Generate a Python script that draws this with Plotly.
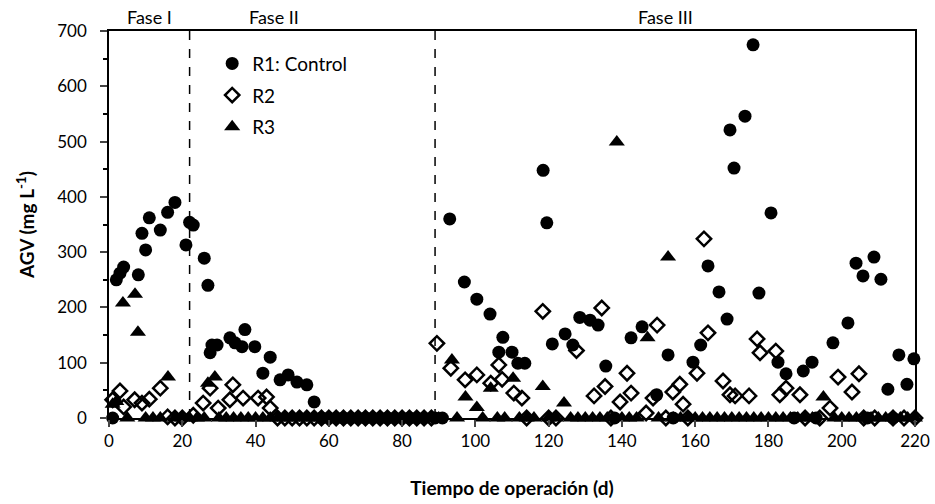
import plotly.graph_objects as go

# ---------------- data ----------------
r1_days = [1, 2, 3, 4, 8, 9, 10, 11, 14, 16, 18, 21, 22, 23, 26, 27,
           27.6, 28.1, 29.5, 33, 34.4, 36.3, 37.1, 39.8, 42, 44, 46.7, 48.9, 51.3, 54, 56,
           58, 60, 62, 64, 66, 68, 70, 72, 74, 76, 78, 80, 82, 84, 86, 89,
           91, 93, 97, 100.4, 104, 106.4, 107.5, 110, 111.6, 113.5, 118.5, 119.5, 121, 124.5,
           126.6, 128.5, 131.3, 133.5, 135.6, 138, 142.5, 145.5, 149.5, 152.6, 154, 159.4, 161.5,
           163.5, 166.5, 168.7, 169.5, 170.6, 173.6, 175.8, 177.4, 180.7, 182.6, 184.8, 187,
           189.5, 191.9, 193, 197.6, 201.7, 203.9, 205.8, 207, 208.8, 210.7, 212.6, 214, 215.6,
           217.8, 219.7]
r1_vals = [0, 250, 262, 273, 259, 334, 304, 362, 340, 372, 390, 313, 354, 349, 289, 240,
           118, 132, 132, 145, 136, 129, 160, 129, 81, 110, 69, 78, 65, 60, 29,
           0, 0, 0, 0, 0, 0, 0, 0, 0, 0, 0, 0, 0, 0, 0, 0,
           0, 360, 246, 215, 188, 119, 146, 119, 99, 99, 448, 353, 134, 152,
           132, 182, 177, 168, 94, 0, 145, 165, 42, 114, 0, 101, 132,
           275, 228, 179, 521, 452, 546, 675, 226, 371, 101, 80, 0,
           85, 101, 0, 136, 172, 280, 257, 0, 291, 251, 52, 0, 114,
           61, 107]

r2_days = [1, 3, 4, 7, 9, 11, 14, 16, 18, 20, 23,
           25.7, 27.6, 29.8, 33, 33.8, 36.6, 40.7, 43, 44, 46, 48, 50, 52, 54, 56, 58, 60,
           62, 64, 66, 68, 70, 72, 74, 76, 78, 80, 82, 84, 86, 88,
           89.5, 93.3, 97.2, 100.4, 104.2, 106.4, 107.3, 110.5, 112.7, 114, 118.4, 120, 122,
           127.6, 132.4, 134.5, 135.4, 137, 139.5, 141.4, 142.5, 146.6, 148.5, 149.6, 152,
           153.9, 155.8, 156.7, 158, 160.5, 162.4, 163.5, 167.6, 169.5, 170.9, 174.7, 176.9,
           177.7, 182, 183.1, 184.8, 188.6, 190, 194, 196.8, 199, 202.8, 204.7, 206, 209,
           214, 217, 220]
r2_vals = [33, 49, 20, 33, 27, 34, 54, 2, 0, 0, 5,
           27, 54, 18, 33, 60, 36, 36, 38, 18, 0, 0, 0, 0, 0, 0, 0, 0,
           0, 0, 0, 0, 0, 0, 0, 0, 0, 0, 0, 0, 0, 0,
           135, 90, 69, 78, 63, 96, 70, 45, 36, 0, 193, 0, 0,
           122, 40, 199, 57, 0, 29, 81, 45, 9, 36, 168, 0,
           47, 61, 25, 0, 81, 324, 154, 67, 42, 40, 40, 143,
           118, 121, 42, 54, 42, 0, 0, 18, 74, 47, 80, 0, 0,
           0, 0, 0]

r3_days = [1, 2, 3.8, 5, 7.1, 7.9, 10, 12, 14, 16.1, 18, 20, 22,
           24, 26, 27, 28.9, 30, 32, 34, 36, 38, 40, 42, 44, 46, 48, 50, 52, 54, 56, 58, 60,
           62, 64, 66, 68, 70, 72, 74, 76, 78, 80, 82, 84, 86, 88,
           90, 93.6, 95, 97.3, 100.4, 102, 104.2, 106, 108, 110.3, 112, 114, 116, 118.4, 120,
           122, 124.2, 126, 128, 130, 132, 134, 136, 138.6, 140, 142, 144, 147, 150, 152.6,
           154, 156, 158, 160, 162, 164, 166, 168, 170, 172, 174, 176, 178, 180, 182, 184,
           186, 188, 190, 192, 195, 198, 200, 202, 204, 206, 208, 210, 212, 214, 216, 218, 220]
r3_vals = [25, 30, 208, 0, 224, 155, 0, 0, 0, 74, 0, 0, 0,
           0, 0, 63, 74, 0, 0, 0, 0, 0, 0, 0, 0, 0, 0, 0, 0, 0, 0, 0, 0,
           0, 0, 0, 0, 0, 0, 0, 0, 0, 0, 0, 0, 0, 0,
           0, 105, 0, 38, 19, 0, 54, 0, 0, 72, 0, 0, 0, 57, 0,
           0, 27, 0, 0, 0, 0, 0, 0, 499, 0, 0, 0, 145, 0, 291,
           0, 0, 0, 0, 0, 0, 0, 0, 0, 0, 0, 0, 0, 0, 0, 0,
           0, 0, 0, 0, 38, 0, 0, 0, 0, 0, 0, 0, 0, 0, 0, 0, 0]

phase_bounds = [22, 89]
phase_labels = ["Fase I", "Fase II", "Fase III"]
phase_label_x = [11, 45, 152]

x_ticks = list(range(0, 221, 20))
y_ticks = list(range(0, 701, 100))

FONT = "Lato"

fig = go.Figure()
fig.add_trace(go.Scatter(x=r1_days, y=r1_vals, mode="markers", name="R1: Control",
                         legendgroup="a", cliponaxis=False,
                         marker=dict(symbol="circle", size=13, color="black")))
fig.add_trace(go.Scatter(x=r2_days, y=r2_vals, mode="markers", name="R2",
                         legendgroup="b", cliponaxis=False,
                         marker=dict(symbol="diamond-open", size=11, color="black",
                                     line=dict(width=2.5, color="black"))))
fig.add_trace(go.Scatter(x=r3_days, y=r3_vals, mode="markers", name="R3",
                         legendgroup="c", cliponaxis=False,
                         marker=dict(symbol="triangle-up", size=14, color="black")))

for b in phase_bounds:
    fig.add_shape(type="line", x0=b, x1=b, xref="x", y0=0, y1=1, yref="paper",
                  line=dict(color="black", width=1.5, dash="dash"), layer="below")

for lbl, xp in zip(phase_labels, phase_label_x):
    fig.add_annotation(x=xp, y=1, xref="x", yref="paper", text=lbl, showarrow=False,
                       yanchor="bottom", yshift=1, font=dict(family=FONT, size=18, color="black"))

fig.update_layout(
    width=935, height=504,
    margin=dict(l=109, r=20, t=31, b=86),
    paper_bgcolor="white", plot_bgcolor="white",
    font=dict(family=FONT, size=17, color="black"),
    showlegend=True,
    legend=dict(x=0.128, y=0.965, xanchor="left", yanchor="top",
                font=dict(family=FONT, size=19, color="black"),
                bgcolor="rgba(0,0,0,0)", tracegroupgap=4, traceorder="grouped"),
    xaxis=dict(range=[0, 220], tickvals=x_ticks, ticks="outside", ticklen=7, tickwidth=1.5,
               showline=True, linecolor="black", linewidth=1.5, mirror=True, showgrid=False,
               zeroline=False, tickfont=dict(family=FONT, size=17), ticklabelstandoff=0,
               automargin=False,
               title=dict(text="<b>Tiempo de operación (d)</b>", font=dict(family=FONT, size=19),
                          standoff=32)),
    yaxis=dict(range=[0, 700], tickvals=y_ticks, ticks="outside", ticklen=7, tickwidth=1.5,
               showline=True, linecolor="black", linewidth=1.5, mirror=True, showgrid=False,
               zeroline=False, tickfont=dict(family=FONT, size=17), ticklabelstandoff=10,
               automargin=False,
               minor=dict(dtick=50, ticks="outside", ticklen=4, tickwidth=1.5, tickcolor="black"),
               title=dict(text="<b>AGV (mg L<sup>-1</sup>)</b>", font=dict(family=FONT, size=19),
                          standoff=18)),
)

fig.write_html("out.html")
